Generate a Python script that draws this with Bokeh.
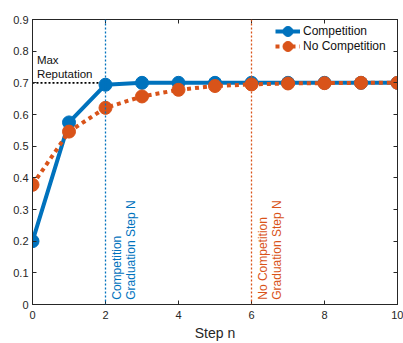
import math
from bokeh.plotting import figure
from bokeh.models import Span, Label, Legend, LegendItem, LinearAxis, FixedTicker, Range1d
from bokeh.embed import file_html
from bokeh.resources import INLINE

steps = [0, 1, 2, 3, 4, 5, 6, 7, 8, 9, 10]
competition = [0.200, 0.575, 0.694, 0.700, 0.700, 0.700, 0.700, 0.700, 0.700, 0.700, 0.700]
no_competition = [0.378, 0.546, 0.621, 0.657, 0.678, 0.690, 0.695, 0.698, 0.699, 0.700, 0.700]
x_ticks = [0, 2, 4, 6, 8, 10]
y_ticks = [0, 0.1, 0.2, 0.3, 0.4, 0.5, 0.6, 0.7, 0.8, 0.9]
max_reputation = 0.7
grad_comp = 2
grad_nocomp = 6

BLUE = "#0072BD"
ORANGE = "#D95319"
AX = "#262626"
FONT = "Liberation Sans"

p = figure(width=403, height=343, output_backend="svg", toolbar_location=None,
           x_range=Range1d(0, 10), y_range=Range1d(0, 0.9),
           min_border_left=32, min_border_right=6, min_border_top=19, min_border_bottom=6)
p.grid.visible = False
p.outline_line_color = AX
p.outline_line_width = 1
p.background_fill_color = "white"
p.border_fill_color = "white"

for ax in (p.xaxis[0], p.yaxis[0]):
    ax.major_tick_in = 4
    ax.major_tick_out = 0
    ax.minor_tick_line_color = None
    ax.axis_line_color = AX
    ax.major_tick_line_color = AX
    ax.major_label_text_font = FONT
    ax.major_label_text_font_size = "11px"
    ax.major_label_text_color = AX
p.xaxis.ticker = FixedTicker(ticks=x_ticks)
p.yaxis.ticker = FixedTicker(ticks=y_ticks)
p.yaxis.major_label_overrides = {0: "0"}
p.xaxis.major_label_standoff = 6
p.yaxis.major_label_standoff = 4
p.xaxis.axis_label = "Step n"
p.xaxis.axis_label_text_font = FONT
p.xaxis.axis_label_text_font_size = "14px"
p.xaxis.axis_label_text_font_style = "normal"
p.xaxis.axis_label_text_color = AX
p.xaxis.axis_label_standoff = 3

# mirror ticks on top/right (no labels)
top = LinearAxis(ticker=FixedTicker(ticks=x_ticks), major_tick_in=4, major_tick_out=0,
                 minor_tick_line_color=None, major_label_text_font_size="1px",
                 major_label_text_color=None,
                 major_label_standoff=0, axis_line_color=AX, major_tick_line_color=AX)
right = LinearAxis(ticker=FixedTicker(ticks=y_ticks), major_tick_in=4, major_tick_out=0,
                   minor_tick_line_color=None, major_label_text_font_size="1px",
                   major_label_text_color=None,
                   major_label_standoff=0, axis_line_color=AX, major_tick_line_color=AX)
p.add_layout(top, "above")
p.add_layout(right, "right")

# graduation lines
p.add_layout(Span(location=grad_comp, dimension="height", line_color=BLUE,
                  line_dash="2 2", line_width=1.3))
p.add_layout(Span(location=grad_nocomp, dimension="height", line_color=ORANGE,
                  line_dash="2 2", line_width=1.3))
# max reputation line
p.line([0, grad_comp], [max_reputation, max_reputation], line_color="black",
       line_dash="2 2", line_width=1.6)

p.add_layout(Label(x=0.12, y=0.772, text="Max", text_font=FONT, text_font_size="11.5px",
                   text_color="#111111", text_baseline="middle"))
p.add_layout(Label(x=0.12, y=0.728, text="Reputation", text_font=FONT, text_font_size="11.5px",
                   text_color="#111111", text_baseline="middle"))

for xx, lines, col in [(grad_comp, ["Competition", "Graduation Step N"], BLUE),
                       (grad_nocomp, ["No Competition", "Graduation Step N"], ORANGE)]:
    for i, t in enumerate(lines):
        p.add_layout(Label(x=xx + 0.32 + i * 0.38, y=0.015, text=t, angle=math.pi / 2,
                           text_font=FONT, text_font_size="12px", text_color=col,
                           text_align="left", text_baseline="middle"))

l1 = p.line(steps, competition, line_color=BLUE, line_width=4)
c1 = p.scatter(steps, competition, size=13, fill_color=BLUE, line_color=BLUE)
l2 = p.line(steps, no_competition, line_color=ORANGE, line_width=4, line_dash="4 4")
c2 = p.scatter(steps, no_competition, size=13, fill_color=ORANGE, line_color=ORANGE)

# two single-item legends so that the legend markers can be full size
common = dict(border_line_color=None, background_fill_alpha=0,
              label_text_font=FONT, label_text_font_size="12px", label_text_color="#111111",
              glyph_width=25, glyph_height=32, spacing=0, padding=0, margin=0,
              label_standoff=3, label_height=32)
leg1 = Legend(items=[LegendItem(label="Competition", renderers=[l1, c1])],
              location=(243, 257), **common)
leg2 = Legend(items=[LegendItem(label="No Competition", renderers=[l2, c2])],
              location=(243, 242), **common)
p.add_layout(leg1)
p.add_layout(leg2)

open("out.html", "w").write(file_html(p, INLINE))
